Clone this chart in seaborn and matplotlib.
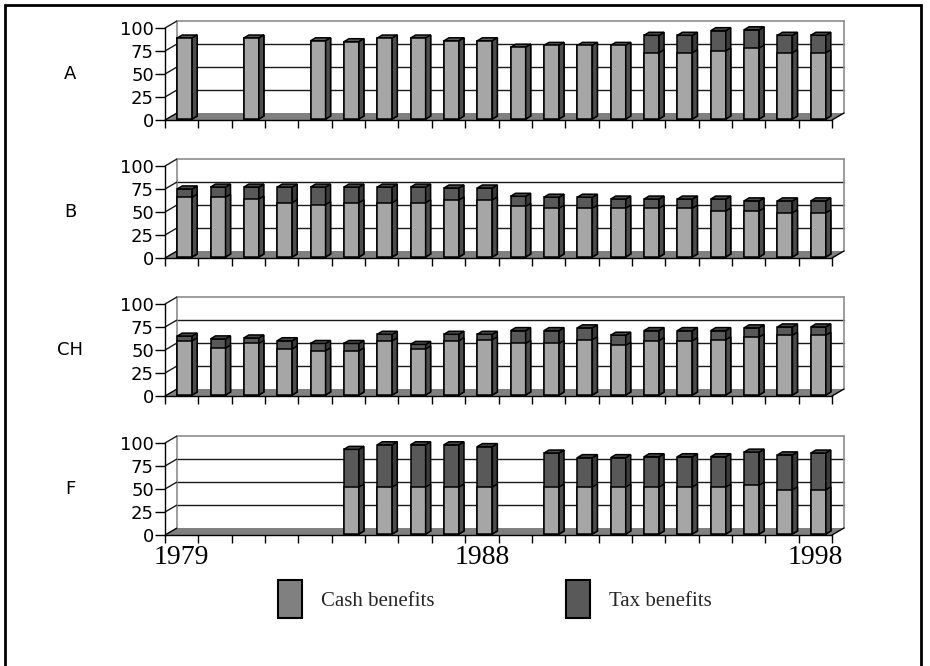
import numpy as np
import pandas as pd
import matplotlib
matplotlib.use("Agg")
import matplotlib.pyplot as plt
import matplotlib.transforms as mtransforms
from matplotlib.patches import Polygon, Rectangle, Patch
import seaborn as sns

# ---------------------------------------------------------------- data
years = list(range(1979, 1999))
countries = ["A", "B", "CH", "F"]
nan = np.nan

cash_A = [88, nan, 88, nan, 85, 84, 88, 88, 85, 85, 78, 80, 80, 80, 72, 72, 74, 77, 72, 72]
tax_A = [0, nan, 0, nan, 0, 0, 0, 0, 0, 0, 0, 0, 0, 0, 19, 19, 22, 20, 19, 19]

cash_B = [65, 65, 63, 59, 57, 59, 59, 59, 62, 62, 55, 53, 53, 53, 53, 53, 50, 50, 48, 48]
tax_B = [9, 11, 13, 17, 19, 17, 17, 17, 13, 13, 11, 12, 12, 10, 10, 10, 13, 11, 13, 13]

cash_CH = [59, 51, 56, 50, 48, 48, 59, 50, 59, 60, 56, 56, 60, 54, 59, 59, 60, 63, 65, 65]
tax_CH = [5, 10, 6, 9, 8, 8, 7, 5, 7, 6, 14, 14, 13, 11, 11, 11, 10, 10, 9, 9]

cash_F = [nan, nan, nan, nan, nan, 51, 51, 51, 51, 51, nan, 51, 51, 51, 51, 51, 51, 53, 48, 48]
tax_F = [nan, nan, nan, nan, nan, 41, 46, 46, 46, 44, nan, 37, 32, 32, 33, 33, 33, 36, 38, 40]

cash = {"A": cash_A, "B": cash_B, "CH": cash_CH, "F": cash_F}
tax = {"A": tax_A, "B": tax_B, "CH": tax_CH, "F": tax_F}

yticks = [0, 25, 50, 75, 100]
year_labels = ["1979", "1988", "1998"]
legend_labels = ["Cash benefits", "Tax benefits"]

# ---------------------------------------------------------------- style
sns.set_theme(style="ticks")
plt.rcParams["font.family"] = ["DejaVu Sans"]
SERIF = ["Liberation Serif", "DejaVu Serif"]

CASH_FRONT, CASH_SIDE, CASH_TOP = "#a6a6a6", "#4d4d4d", "#5a5a5a"
TAX_FRONT, TAX_SIDE, TAX_TOP = "#595959", "#3a3a3a", "#4a4a4a"
CASH_KEY, TAX_KEY = "#808080", "#595959"
FLOOR = "#808080"
WALL_EDGE = "#8c8c8c"

FIG_W, FIG_H, DPI = 930, 666, 100
fig = plt.figure(figsize=(FIG_W / DPI, FIG_H / DPI), dpi=DPI)
fig.patch.set_facecolor("white")

# panel geometry (pixels)
x0_px, x1_px = 165, 832
zero_px = [120, 258, 396, 535]
plot_h_px = 92

n = len(years)
px_x = (x1_px - x0_px) / n        # pixels per category
px_y = plot_h_px / 100.0           # pixels per value unit
wall_dx, wall_dy = 12 / px_x, 7 / px_y
bar_dx, bar_dy = 5 / px_x, 3 / px_y
bar_shift = mtransforms.ScaledTranslation(3 / DPI, 1 / DPI, fig.dpi_scale_trans)
EDGE_LW = 1.1

label_idx = [years.index(int(s)) for s in year_labels]

for k, c in enumerate(countries):
    zb = zero_px[k]
    ax = fig.add_axes([x0_px / FIG_W, 1 - zb / FIG_H,
                       (x1_px - x0_px) / FIG_W, plot_h_px / FIG_H])
    ax.set_facecolor("none")

    df = pd.DataFrame({"year": years, "cash": cash[c], "tax": tax[c]})
    df["total"] = df["cash"] + df["tax"]
    df = df.dropna()

    # floor and walls
    lo, hi = -0.5, n - 0.5
    ax.add_patch(Polygon([(lo, 0), (hi, 0), (hi + wall_dx, wall_dy), (lo + wall_dx, wall_dy)],
                         closed=True, fc=FLOOR, ec="none", zorder=1, clip_on=False))
    for v in yticks:
        col = WALL_EDGE if v in (0, 100) else "#1a1a1a"
        ax.plot([lo, lo + wall_dx], [v, v + wall_dy], color="#1a1a1a" if v else "black",
                lw=1, zorder=1.5, clip_on=False, solid_capstyle="butt")
        if v > 0:
            ax.plot([lo + wall_dx, hi + wall_dx], [v + wall_dy, v + wall_dy], color=col,
                    lw=1.2 if v == 100 else 1, zorder=1.2, clip_on=False)
    ax.plot([lo + wall_dx, lo + wall_dx], [wall_dy, 100 + wall_dy], color=WALL_EDGE,
            lw=1.2, zorder=1.2, clip_on=False)
    ax.plot([hi + wall_dx, hi + wall_dx], [wall_dy, 100 + wall_dy], color=WALL_EDGE,
            lw=1.2, zorder=1.2, clip_on=False)
    ax.plot([hi, hi + wall_dx], [0, wall_dy], color="black", lw=1, zorder=1.5, clip_on=False)

    # stacked bars: totals first, then cash over the lower part
    n0 = len(ax.patches)
    sns.barplot(data=df, x="year", y="total", order=years, color=TAX_FRONT, saturation=1,
                width=0.45, errorbar=None, edgecolor="black", linewidth=EDGE_LW, ax=ax)
    tot_patches = ax.patches[n0:]
    n1 = len(ax.patches)
    sns.barplot(data=df, x="year", y="cash", order=years, color=CASH_FRONT, saturation=1,
                width=0.45, errorbar=None, edgecolor="black", linewidth=EDGE_LW, ax=ax)
    cash_patches = ax.patches[n1:]

    trans = ax.transData + bar_shift

    def add_faces(p, side_col, top_col, z, with_top=True):
        x, w, h = p.get_x(), p.get_width(), p.get_height()
        xr = x + w
        side = Polygon([(xr, 0), (xr + bar_dx, bar_dy), (xr + bar_dx, h + bar_dy), (xr, h)],
                       closed=True, fc=side_col, ec="black", lw=EDGE_LW, zorder=z,
                       transform=trans, clip_on=False, joinstyle="miter")
        ax.add_patch(side)
        if with_top:
            top = Polygon([(x, h), (x + bar_dx, h + bar_dy), (xr + bar_dx, h + bar_dy), (xr, h)],
                          closed=True, fc=top_col, ec="black", lw=EDGE_LW, zorder=z,
                          transform=trans, clip_on=False, joinstyle="miter")
            ax.add_patch(top)

    for p in tot_patches:
        i = int(round(p.get_x() + p.get_width() / 2))
        has_tax = tax[c][i] > 0
        p.set_transform(trans)
        p.set_zorder(3)
        p.set_clip_on(False)
        add_faces(p, TAX_SIDE if has_tax else CASH_SIDE, TAX_TOP if has_tax else CASH_TOP, 3)
    for p in cash_patches:
        p.set_transform(trans)
        p.set_zorder(4)
        p.set_clip_on(False)
        add_faces(p, CASH_SIDE, CASH_TOP, 4, with_top=False)

    # axes
    ax.set_xlim(lo, hi)
    ax.set_ylim(0, 100)
    ax.set_yticks(yticks)
    ax.set_yticklabels([str(v) for v in yticks])
    ax.tick_params(axis="y", which="major", left=True, direction="out", length=7, width=1,
                   color="black", labelsize=13, pad=1, labelcolor="black")
    ax.set_xticks(np.arange(lo, hi + 0.01, 1), minor=True)
    ax.set_xticks(label_idx)
    if k == len(countries) - 1:
        ax.set_xticklabels(year_labels, fontsize=20, family=SERIF, color="black")
    else:
        ax.set_xticklabels([])
    ax.tick_params(axis="x", which="major", bottom=True, length=0, pad=7)
    ax.tick_params(axis="x", which="minor", bottom=True, direction="out", length=6,
                   width=1, color="black")
    for s in ("top", "right"):
        ax.spines[s].set_visible(False)
    for s in ("left", "bottom"):
        ax.spines[s].set_color("black")
        ax.spines[s].set_linewidth(1)
        ax.spines[s].set_zorder(2)
    ax.set_xlabel("")
    ax.set_ylabel("")
    ax.grid(False)

    fig.text(70 / FIG_W, 1 - (zb - plot_h_px / 2) / FIG_H, c, ha="center", va="center",
             fontsize=13, color="black")

# legend
handles = [Patch(facecolor=CASH_KEY, edgecolor="black", linewidth=1.5, label=legend_labels[0]),
           Patch(facecolor=TAX_KEY, edgecolor="black", linewidth=1.5, label=legend_labels[1])]
fig.legend(handles=handles, loc="upper left", bbox_to_anchor=(268 / FIG_W, 1 - 570 / FIG_H),
           ncol=2, frameon=False, borderpad=0, handlelength=1.15, handleheight=2.4,
           handletextpad=0.9, columnspacing=6.3,
           prop={"family": SERIF, "size": 15})

# outer frame
fig.add_artist(Rectangle((5 / FIG_W, -0.02), (921 - 5) / FIG_W, 1 - 5 / FIG_H + 0.02,
                         transform=fig.transFigure, fill=False, lw=2, ec="black"))

fig.savefig("out.png", dpi=DPI, facecolor="white")
